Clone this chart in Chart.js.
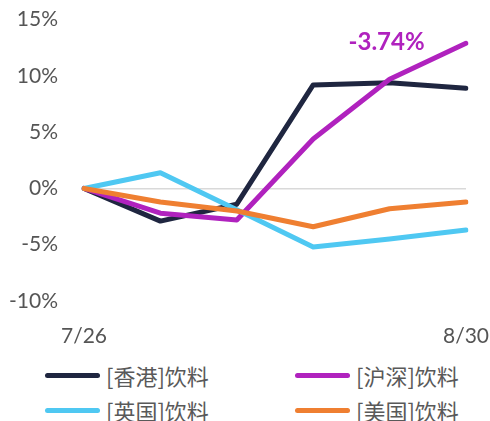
<!DOCTYPE html>
<html>
<head>
<meta charset="utf-8">
<script src="https://cdn.jsdelivr.net/npm/chart.js@4/dist/chart.umd.min.js"></script>
<style>
  html, body { margin: 0; padding: 0; background: #fff; }
  body { width: 490px; height: 421px; overflow: hidden; position: relative; }
  #wrap { position: absolute; left: 0; top: 0; width: 490px; height: 350px; }
  #legend { position: absolute; left: 0; top: 360px; width: 490px; }
  .item { position: absolute; display: flex; align-items: center; height: 30px;
          font-family: "Noto Sans CJK SC", sans-serif; font-size: 22px; color: #595959; }
  .swatch { width: 55px; height: 5px; border-radius: 3px; margin-right: 6px; }
</style>
</head>
<body>
<div id="wrap"><canvas id="chart1"></canvas></div>
<div id="legend"></div>
<script>
let fechas = ['7/26', '8/2', '8/9', '8/16', '8/23', '8/30'];
let nombres = ['[香港]饮料', '[沪深]饮料', '[英国]饮料', '[美国]饮料'];
let colores = ['#1f2640', '#b022be', '#4fc8f2', '#ef7f31'];

let hongkong = [0, -2.9, -1.4, 9.2, 9.4, 8.9];
let hushen = [0, -2.2, -2.8, 4.4, 9.7, 12.9];
let reino = [0, 1.4, -1.9, -5.2, -4.5, -3.7];
let eeuu = [0, -1.2, -2.0, -3.4, -1.8, -1.2];

let etiqueta = '-3.74%';
let etiquetaX = 4;
let etiquetaY = 13.0;

const series = [hongkong, hushen, reino, eeuu];

const legendNode = document.getElementById('legend');
let html = '';
for (let i = 0; i < nombres.length; i++) {
  let left = (i % 2 === 0) ? 45 : 295;
  let top = Math.floor(i / 2) * 35;
  html += `<div class="item" style="left:${left}px;top:${top}px">
             <div class="swatch" style="background:${colores[i]}"></div>${nombres[i]}
           </div>`;
}
legendNode.innerHTML = html;

const labelPlugin = {
  id: 'etiqueta',
  afterDatasetsDraw(chart) {
    const ctx = chart.ctx;
    const x = chart.scales.x.getPixelForValue(etiquetaX);
    const y = chart.scales.y.getPixelForValue(etiquetaY);
    ctx.save();
    ctx.font = 'bold 24px Lato';
    ctx.fillStyle = colores[1];
    ctx.textAlign = 'center';
    ctx.textBaseline = 'middle';
    ctx.fillText(etiqueta, x - 3, y);
    ctx.restore();
  }
};

new Chart(document.getElementById('chart1'), {
  type: 'line',
  data: {
    labels: fechas,
    datasets: series.map((d, i) => ({
      label: nombres[i],
      data: d,
      borderColor: colores[i],
      borderWidth: 5,
      borderCapStyle: 'round',
      borderJoinStyle: 'round',
      pointRadius: 0,
      tension: 0,
      fill: false
    })).reverse()
  },
  options: {
    responsive: true,
    maintainAspectRatio: false,
    animation: false,
    layout: { padding: 0 },
    plugins: { legend: { display: false }, tooltip: { enabled: false } },
    scales: {
      x: {
        offset: false,
        grid: { drawOnChartArea: false, drawTicks: true, tickLength: 22, tickColor: 'rgba(0,0,0,0)' },
        border: { display: false },
        afterFit(scale) { scale.height = 49; },
        ticks: {
          autoSkip: false,
          maxRotation: 0,
          padding: 1,
          color: '#555555',
          font: { family: 'Lato', size: 21 },
          callback: function (v, i) {
            return (i === 0 || i === fechas.length - 1) ? fechas[i] : '';
          }
        }
      },
      y: {
        min: -10,
        max: 15,
        border: { display: false },
        afterFit(scale) { scale.width = 84; },
        grid: {
          drawTicks: true,
          tickLength: 19,
          tickColor: 'rgba(0,0,0,0)',
          lineWidth: 1.5,
          color: (c) => c.tick && c.tick.value === 0 ? '#d9d9d9' : 'rgba(0,0,0,0)'
        },
        ticks: {
          stepSize: 5,
          padding: 7,
          color: '#555555',
          font: { family: 'Lato', size: 21 },
          callback: (v) => v + '%'
        }
      }
    }
  },
  plugins: [labelPlugin]
});
</script>
</body>
</html>
